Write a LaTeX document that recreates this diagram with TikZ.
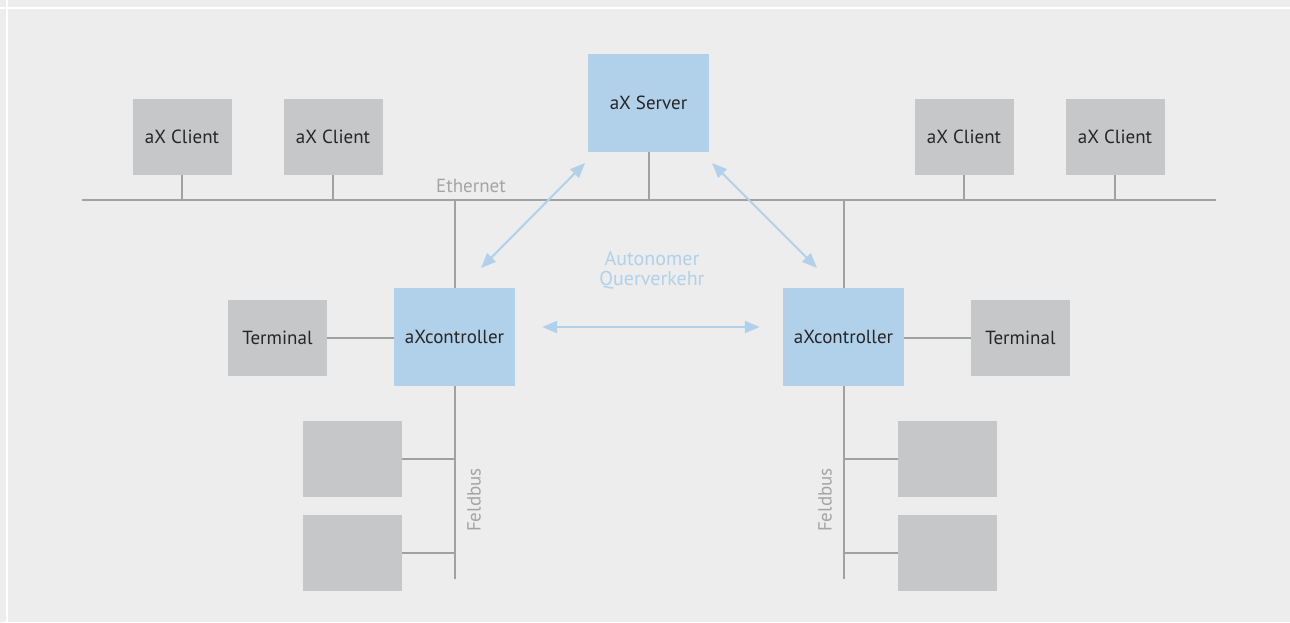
\documentclass[tikz,border=0pt]{standalone}
\usepackage{fontspec}
\setmainfont{PT Sans}
\usetikzlibrary{arrows.meta}
\definecolor{bgrey}{HTML}{ECEDEC}
\definecolor{boxgrey}{HTML}{C6C7C8}
\definecolor{boxblue}{HTML}{B1D1EA}
\definecolor{linegrey}{HTML}{A0A1A1}
\definecolor{txtgrey}{HTML}{A3A4A4}
\begin{document}
\begin{tikzpicture}[x=1pt,y=-1pt,line join=round,font=\fontsize{19}{21}\selectfont,
	greybox/.style={fill=boxgrey,inner sep=0pt,minimum width=99pt,minimum height=76pt,text=black!85},
	bluebox/.style={fill=boxblue,inner sep=0pt,minimum width=121pt,minimum height=98pt,text=black!85},
	bus/.style={draw=linegrey,line width=2pt},
	biarrow/.style={draw=boxblue,line width=2pt,{Triangle[length=15pt,width=12pt]}-{Triangle[length=15pt,width=12pt]}},
	buslabel/.style={text=txtgrey,inner sep=0pt}]
		\useasboundingbox (0,0) rectangle (1290,622);
		\fill[bgrey] (0,0) rectangle (1290,622);
		\draw[white,line width=2pt] (0,8)--(1290,8);
		\draw[white,line width=2pt] (7,0)--(7,622);
		% Ethernet
		\coordinate (ethL) at (82,200);
		\coordinate (ethR) at (1216,200);
		\draw[bus] (ethL)--(ethR);
		\node[buslabel] (eth) at (471,186) {Ethernet};
		\node[greybox] (c1) at (182,137) {aX Client};
		\node[greybox] (c2) at (333,137) {aX Client};
		\node[greybox] (c3) at (964,137) {aX Client};
		\node[greybox] (c4) at (1115,137) {aX Client};
		\node[bluebox] (srv) at (648.5,102.5) {aX Server};
		\foreach \n in {c1,c2,c3,c4,srv}
		\draw[bus] (\n.south)--(\n.south |- ethL);
		% controller
		\node[bluebox] (lc) at (454.5,337) {aXcontroller};
		\node[bluebox] (rc) at (843.5,337) {aXcontroller};
		\node[greybox] (lt) at (277.5,338) {Terminal};
		\node[greybox] (rt) at (1020.5,338) {Terminal};
		\draw[bus] (lc.north)--(lc.north |- ethL);
		\draw[bus] (rc.north)--(rc.north |- ethL);
		\draw[bus] (lt.east)--(lt.east -| lc.west);
		\draw[bus] (rt.west)--(rt.west -| rc.east);
		% Feldbus
		\coordinate (lfb) at (454.5,579);
		\coordinate (rfb) at (843.5,579);
		\draw[bus] (lc.south)--(lfb);
		\draw[bus] (rc.south)--(rfb);
		\node[greybox] (lf1) at (352.5,459) {};
		\node[greybox] (lf2) at (352.5,553) {};
		\node[greybox] (rf1) at (947.5,459) {};
		\node[greybox] (rf2) at (947.5,553) {};
		\foreach \n in {lf1,lf2}
		\draw[bus] (\n.east)--(\n.east -| lfb);
		\foreach \n in {rf1,rf2}
		\draw[bus] (\n.west)--(\n.west -| rfb);
		\node[buslabel,rotate=90] (lfl) at (474,500) {Feldbus};
		\node[buslabel,rotate=90] (rfl) at (825,500) {Feldbus};
		% Querverkehr
		\coordinate (a1) at (481,268);
		\coordinate (a2) at (585,163);
		\coordinate (a3) at (712,163);
		\coordinate (a4) at (817,268);
		\draw[biarrow] (a1)--(a2);
		\draw[biarrow] (a3)--(a4);
		\draw[biarrow] ([xshift=27pt,yshift=10pt]lc.east)--([xshift=-23pt,yshift=10pt]rc.west);
		\node[text=boxblue,align=center,font=\fontsize{20}{20.5}\selectfont] (qv) at (652,270) {Autonomer\\Querverkehr};
\end{tikzpicture}
\end{document}
